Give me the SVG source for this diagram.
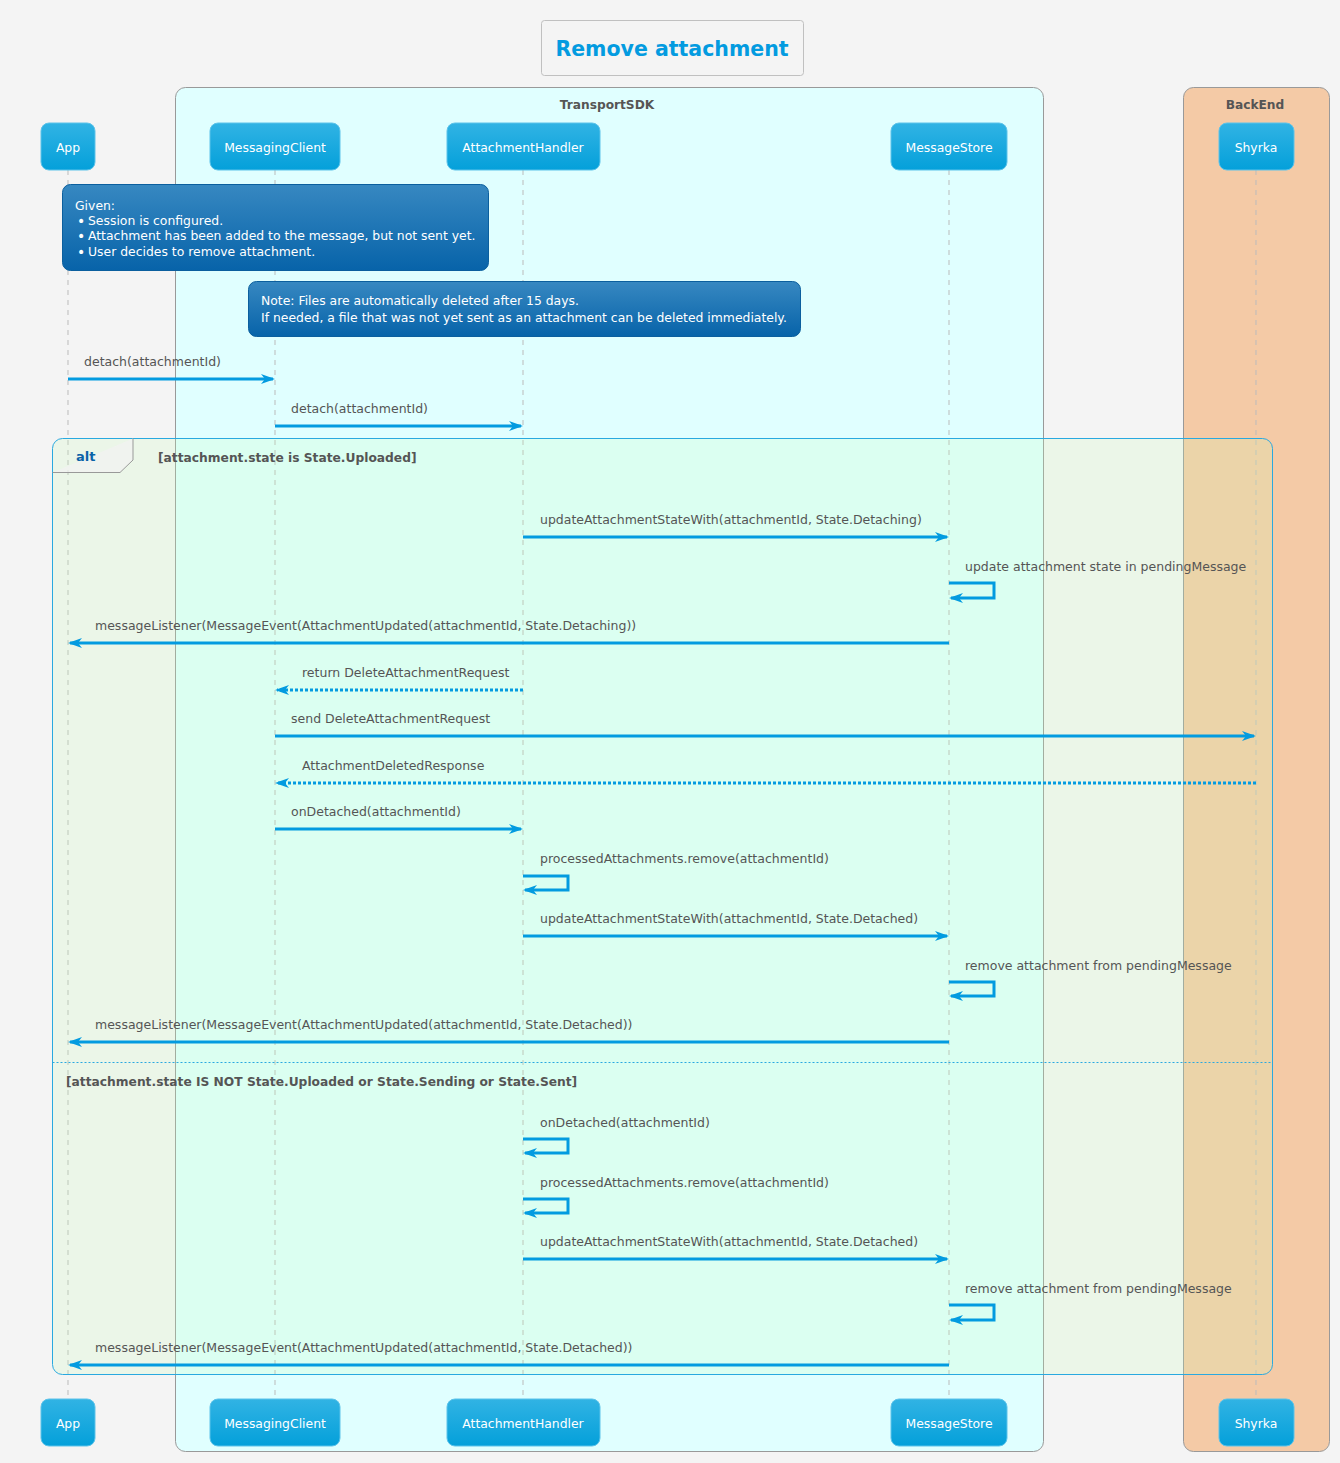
<svg xmlns="http://www.w3.org/2000/svg" width="1340" height="1463" viewBox="0 0 1340 1463">
  <defs>
    <linearGradient id="partGrad" x1="0" y1="0" x2="0" y2="1">
      <stop offset="0" stop-color="#31b3e4"/>
      <stop offset="1" stop-color="#04a0da"/>
    </linearGradient>
    <linearGradient id="noteGrad" x1="0" y1="0" x2="0" y2="1">
      <stop offset="0" stop-color="#3788c1"/>
      <stop offset="1" stop-color="#0763a9"/>
    </linearGradient>
    <marker id="head" markerUnits="userSpaceOnUse" markerWidth="16" markerHeight="12" refX="12" refY="6" orient="auto">
      <path d="M0,1 L14,6 L0,11 L4,6 Z" fill="#039be0"/>
    </marker>
  </defs>
  <style>
    text { font-family: "DejaVu Sans", Verdana, sans-serif; }
    .title { font-size: 20.5px; font-weight: bold; fill: #039be0; }
    .box-label { font-size: 12.2px; font-weight: bold; fill: #555555; }
    .part rect { fill: url(#partGrad); stroke: #5cc3ea; stroke-width: 1; }
    .part text { font-size: 12.4px; fill: #ffffff; text-anchor: middle; }
    .note rect { fill: url(#noteGrad); stroke: #0b5f9e; stroke-width: 1; }
    .note text { font-size: 12.4px; fill: #ffffff; }
    .note .bullet { font-size: 14px; }
    .life { stroke: #bbbbbb; stroke-width: 1; stroke-dasharray: 5,5; }
    .msg { stroke: #039be0; stroke-width: 3; fill: none; marker-end: url(#head); }
    .ret { stroke-dasharray: 3,2; }
    .lbl { font-size: 12.5px; fill: #555555; }
    .cond { font-size: 12.25px; font-weight: bold; fill: #555555; }
  </style>

  <!-- page background -->
  <rect x="0" y="0" width="1340" height="1463" fill="#f4f4f4"/>

  <!-- title -->
  <g id="title">
    <rect x="541.5" y="20.5" width="262" height="55" rx="3" fill="#f4f4f4" stroke="#c0c0c0"/>
    <text class="title" x="672" y="56" text-anchor="middle">Remove attachment</text>
  </g>

  <!-- participant groupings -->
  <g id="box-transportsdk">
    <rect x="175.5" y="87.5" width="868" height="1364" rx="10" fill="#e0ffff" stroke="#999999"/>
    <text class="box-label" x="607" y="109" text-anchor="middle">TransportSDK</text>
  </g>
  <g id="box-backend">
    <rect x="1183.5" y="87.5" width="146" height="1364" rx="10" fill="#f4caa6" stroke="#999999"/>
    <text class="box-label" x="1255" y="109" text-anchor="middle">BackEnd</text>
  </g>

  <!-- lifelines -->
  <g id="lifelines">
    <line class="life" x1="68" y1="170" x2="68" y2="1399"/>
    <line class="life" x1="275" y1="170" x2="275" y2="1399"/>
    <line class="life" x1="523" y1="170" x2="523" y2="1399"/>
    <line class="life" x1="949" y1="170" x2="949" y2="1399"/>
    <line class="life" x1="1256" y1="170" x2="1256" y2="1399"/>
  </g>

  <!-- participants (top) -->
  <g id="app" class="part">
    <rect x="41" y="123" width="54" height="47" rx="8"/>
    <text x="68" y="152">App</text>
  </g>
  <g id="messagingclient" class="part">
    <rect x="210" y="123" width="130" height="47" rx="8"/>
    <text x="275" y="152">MessagingClient</text>
  </g>
  <g id="attachmenthandler" class="part">
    <rect x="447" y="123" width="153" height="47" rx="8"/>
    <text x="523" y="152">AttachmentHandler</text>
  </g>
  <g id="messagestore" class="part">
    <rect x="891" y="123" width="116" height="47" rx="8"/>
    <text x="949" y="152">MessageStore</text>
  </g>
  <g id="shyrka" class="part">
    <rect x="1219" y="123" width="75" height="47" rx="8"/>
    <text x="1256" y="152">Shyrka</text>
  </g>

  <!-- participants (bottom) -->
  <g id="app-foot" class="part">
    <rect x="41" y="1399" width="54" height="47" rx="8"/>
    <text x="68" y="1428">App</text>
  </g>
  <g id="messagingclient-foot" class="part">
    <rect x="210" y="1399" width="130" height="47" rx="8"/>
    <text x="275" y="1428">MessagingClient</text>
  </g>
  <g id="attachmenthandler-foot" class="part">
    <rect x="447" y="1399" width="153" height="47" rx="8"/>
    <text x="523" y="1428">AttachmentHandler</text>
  </g>
  <g id="messagestore-foot" class="part">
    <rect x="891" y="1399" width="116" height="47" rx="8"/>
    <text x="949" y="1428">MessageStore</text>
  </g>
  <g id="shyrka-foot" class="part">
    <rect x="1219" y="1399" width="75" height="47" rx="8"/>
    <text x="1256" y="1428">Shyrka</text>
  </g>

  <!-- notes -->
  <g id="note-given" class="note">
    <rect x="62.5" y="184.5" width="426" height="86" rx="8"/>
    <text x="75" y="210">Given:</text>
    <text class="bullet" x="77" y="226">•</text><text x="88" y="225">Session is configured.</text>
    <text class="bullet" x="77" y="241">•</text><text x="88" y="240">Attachment has been added to the message, but not sent yet.</text>
    <text class="bullet" x="77" y="257">•</text><text x="88" y="256">User decides to remove attachment.</text>
  </g>
  <g id="note-files" class="note">
    <rect x="248.5" y="281.5" width="552" height="55" rx="8"/>
    <text x="261" y="305">Note: Files are automatically deleted after 15 days.</text>
    <text x="261" y="322">If needed, a file that was not yet sent as an attachment can be deleted immediately.</text>
  </g>

  <!-- alt fragment -->
  <g id="alt">
    <rect x="52.5" y="438.5" width="1220" height="936" rx="10" fill="#c8ffbb" fill-opacity="0.2" stroke="#29a9e0"/>
    <path d="M52.5,472.5 H120 L133,460 V438.5" fill="#f2f2f2" fill-opacity="0.7" stroke="#999999"/>
    <text x="76" y="461" font-size="13" font-weight="bold" fill="#0b63a8">alt</text>
    <text class="cond" x="158" y="462">[attachment.state is State.Uploaded]</text>
    <line x1="52.5" y1="1062.5" x2="1272.5" y2="1062.5" stroke="#29a9e0" stroke-dasharray="2,2"/>
    <text class="cond" x="66" y="1086">[attachment.state IS NOT State.Uploaded or State.Sending or State.Sent]</text>
  </g>

  <!-- messages -->
  <g id="connectors">
    <path class="msg" d="M68,379 H273"/>
    <text class="lbl" x="84" y="366">detach(attachmentId)</text>

    <path class="msg" d="M275,426 H521"/>
    <text class="lbl" x="291" y="413">detach(attachmentId)</text>

    <path class="msg" d="M523,537 H947"/>
    <text class="lbl" x="540" y="524">updateAttachmentStateWith(attachmentId, State.Detaching)</text>

    <path class="msg" d="M949,583 H994 V598 H951"/>
    <text class="lbl" x="965" y="571">update attachment state in pendingMessage</text>

    <path class="msg" d="M949,643 H70"/>
    <text class="lbl" x="95" y="630">messageListener(MessageEvent(AttachmentUpdated(attachmentId, State.Detaching))</text>

    <path class="msg ret" d="M523,690 H277"/>
    <text class="lbl" x="302" y="677">return DeleteAttachmentRequest</text>

    <path class="msg" d="M275,736 H1254"/>
    <text class="lbl" x="291" y="723">send DeleteAttachmentRequest</text>

    <path class="msg ret" d="M1256,783 H277"/>
    <text class="lbl" x="302" y="770">AttachmentDeletedResponse</text>

    <path class="msg" d="M275,829 H521"/>
    <text class="lbl" x="291" y="816">onDetached(attachmentId)</text>

    <path class="msg" d="M523,876 H568 V890 H525"/>
    <text class="lbl" x="540" y="863">processedAttachments.remove(attachmentId)</text>

    <path class="msg" d="M523,936 H947"/>
    <text class="lbl" x="540" y="923">updateAttachmentStateWith(attachmentId, State.Detached)</text>

    <path class="msg" d="M949,982 H994 V996 H951"/>
    <text class="lbl" x="965" y="970">remove attachment from pendingMessage</text>

    <path class="msg" d="M949,1042 H70"/>
    <text class="lbl" x="95" y="1029">messageListener(MessageEvent(AttachmentUpdated(attachmentId, State.Detached))</text>

    <path class="msg" d="M523,1139 H568 V1153 H525"/>
    <text class="lbl" x="540" y="1127">onDetached(attachmentId)</text>

    <path class="msg" d="M523,1199 H568 V1213 H525"/>
    <text class="lbl" x="540" y="1187">processedAttachments.remove(attachmentId)</text>

    <path class="msg" d="M523,1259 H947"/>
    <text class="lbl" x="540" y="1246">updateAttachmentStateWith(attachmentId, State.Detached)</text>

    <path class="msg" d="M949,1305 H994 V1320 H951"/>
    <text class="lbl" x="965" y="1293">remove attachment from pendingMessage</text>

    <path class="msg" d="M949,1365 H70"/>
    <text class="lbl" x="95" y="1352">messageListener(MessageEvent(AttachmentUpdated(attachmentId, State.Detached))</text>
  </g>
</svg>
